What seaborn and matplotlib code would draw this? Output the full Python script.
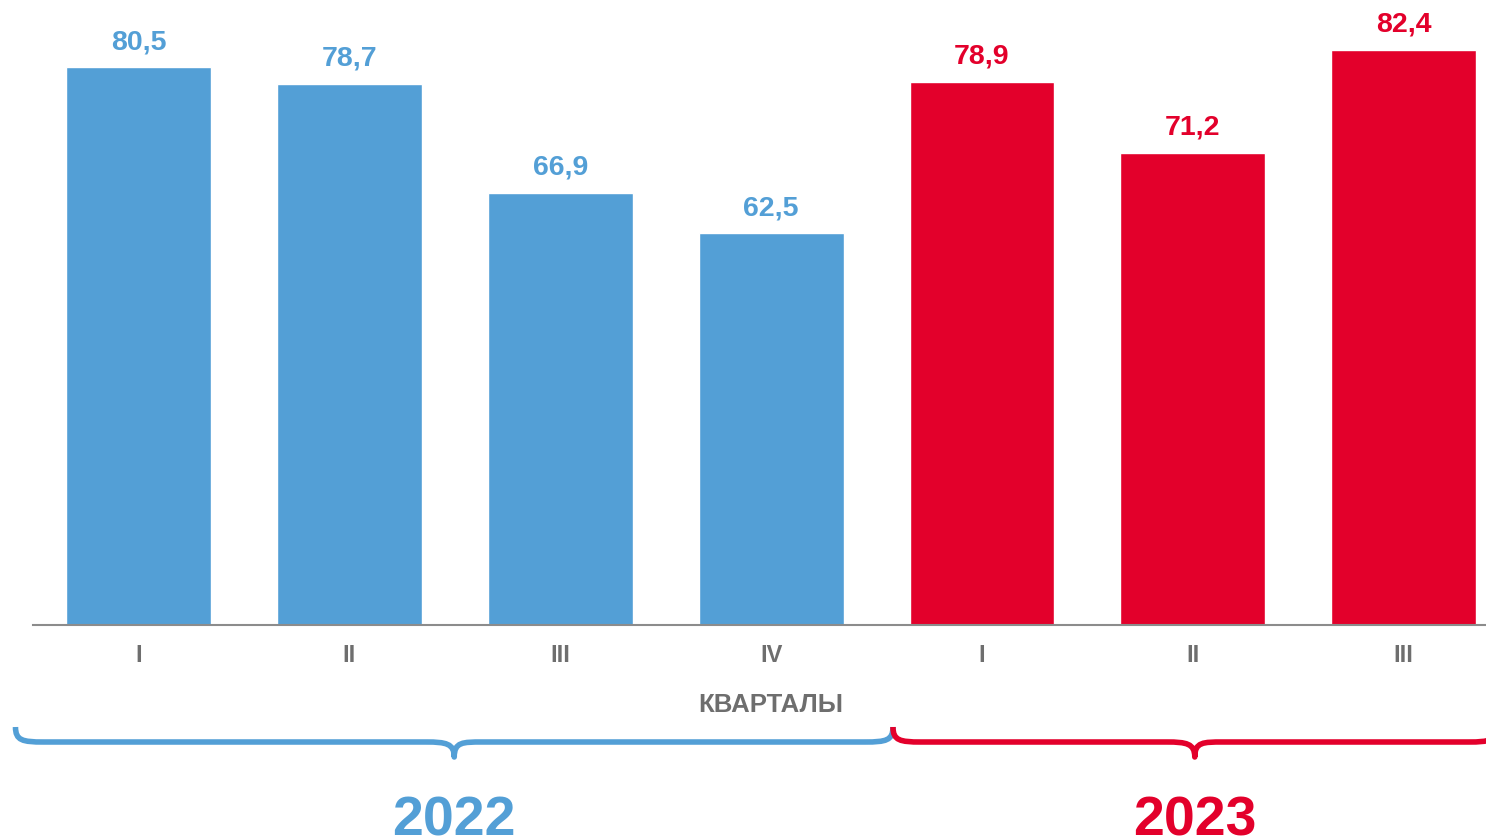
import matplotlib
matplotlib.use("Agg")
import matplotlib.pyplot as plt
import seaborn as sns
import pandas as pd
from matplotlib.path import Path
from matplotlib.patches import PathPatch
from matplotlib.transforms import blended_transform_factory

# ---- data ----
quarters = ["I", "II", "III", "IV", "I", "II", "III"]
years = ["2022", "2022", "2022", "2022", "2023", "2023", "2023"]
values = [80.5, 78.7, 66.9, 62.5, 78.9, 71.2, 82.4]
year_labels = ["2022", "2023"]
axis_title = "КВАРТАЛЫ"

BLUE = "#539FD6"
RED = "#E3002B"
GRAY = "#6E6E6E"
colors = {"2022": BLUE, "2023": RED}

sns.set_theme(style="white")
plt.rcParams["font.family"] = ["Liberation Sans", "DejaVu Sans"]

W, H = 1486, 839
fig = plt.figure(figsize=(W / 100, H / 100), dpi=100)
ax = fig.add_axes([33 / W, (H - 625) / H, (W - 33) / W, 625 / H])

keys = [f"{y} {q}" for y, q in zip(years, quarters)]
df = pd.DataFrame({"key": keys, "value": values, "year": years})
sns.barplot(data=df, x="key", y="value", hue="year", palette=colors,
            dodge=False, width=0.687, legend=False, order=keys, ax=ax,
            saturation=1)

ax.set_ylim(20, 87.8)
ax.set_xlim(-0.5, 6.39)
ax.set_yticks([])
ax.set_ylabel("")
ax.set_xlabel("")
ax.set_xticks(range(len(keys)))
ax.set_xticklabels(quarters, fontsize=17, fontweight="bold", color=GRAY)
ax.tick_params(axis="x", length=0, pad=13.5)
for s in ["top", "right", "left"]:
    ax.spines[s].set_visible(False)
ax.spines["bottom"].set_color("#8C8C8C")
ax.spines["bottom"].set_linewidth(1.5)

# value labels
for i, (v, y) in enumerate(zip(values, years)):
    ax.annotate(f"{v:.1f}".replace(".", ","), xy=(i, v), xytext=(0, 13),
                textcoords="offset points", ha="center", va="baseline",
                fontsize=20.5, fontweight="bold", color=colors[y])

trans = blended_transform_factory(ax.transData, fig.transFigure)

# axis title under quarter IV
fig.text(3, 1 - 712 / H, axis_title, transform=trans, ha="center",
         va="baseline", fontsize=18.5, fontweight="bold", color=GRAY)


def brace(x0, x1, color):
    yt = 1 - 727 / H
    ym = 1 - 742 / H
    yb = 1 - 757 / H
    dx = 28 / 211
    xm = (x0 + x1) / 2
    verts = [
        (x0, yt),
        (x0, yt + (ym - yt) * 0.9), (x0 + dx * 0.25, ym), (x0 + dx, ym),
        (xm - dx, ym),
        (xm - dx * 0.3, ym), (xm, ym - (yb - ym) * -0.1), (xm, yb),
        (xm, ym), (xm + dx * 0.3, ym), (xm + dx, ym),
        (x1 - dx, ym),
        (x1 - dx * 0.25, ym), (x1, yt + (ym - yt) * 0.9), (x1, yt),
    ]
    codes = [Path.MOVETO,
             Path.CURVE4, Path.CURVE4, Path.CURVE4,
             Path.LINETO,
             Path.CURVE4, Path.CURVE4, Path.CURVE4,
             Path.CURVE4, Path.CURVE4, Path.CURVE4,
             Path.LINETO,
             Path.CURVE4, Path.CURVE4, Path.CURVE4]
    patch = PathPatch(Path(verts, codes), facecolor="none", edgecolor=color,
                      linewidth=4, transform=trans, clip_on=False,
                      capstyle="butt", joinstyle="round")
    fig.add_artist(patch)
    return xm


xm1 = brace(-0.583, 3.578, BLUE)
xm2 = brace(3.578, 6.44, RED)

fig.text(xm1, 1 - 836 / H, year_labels[0], transform=trans, ha="center",
         va="baseline", fontsize=40, fontweight="bold", color=BLUE)
fig.text(xm2, 1 - 836 / H, year_labels[1], transform=trans, ha="center",
         va="baseline", fontsize=40, fontweight="bold", color=RED)

fig.savefig("out.png", dpi=100, facecolor="white")
